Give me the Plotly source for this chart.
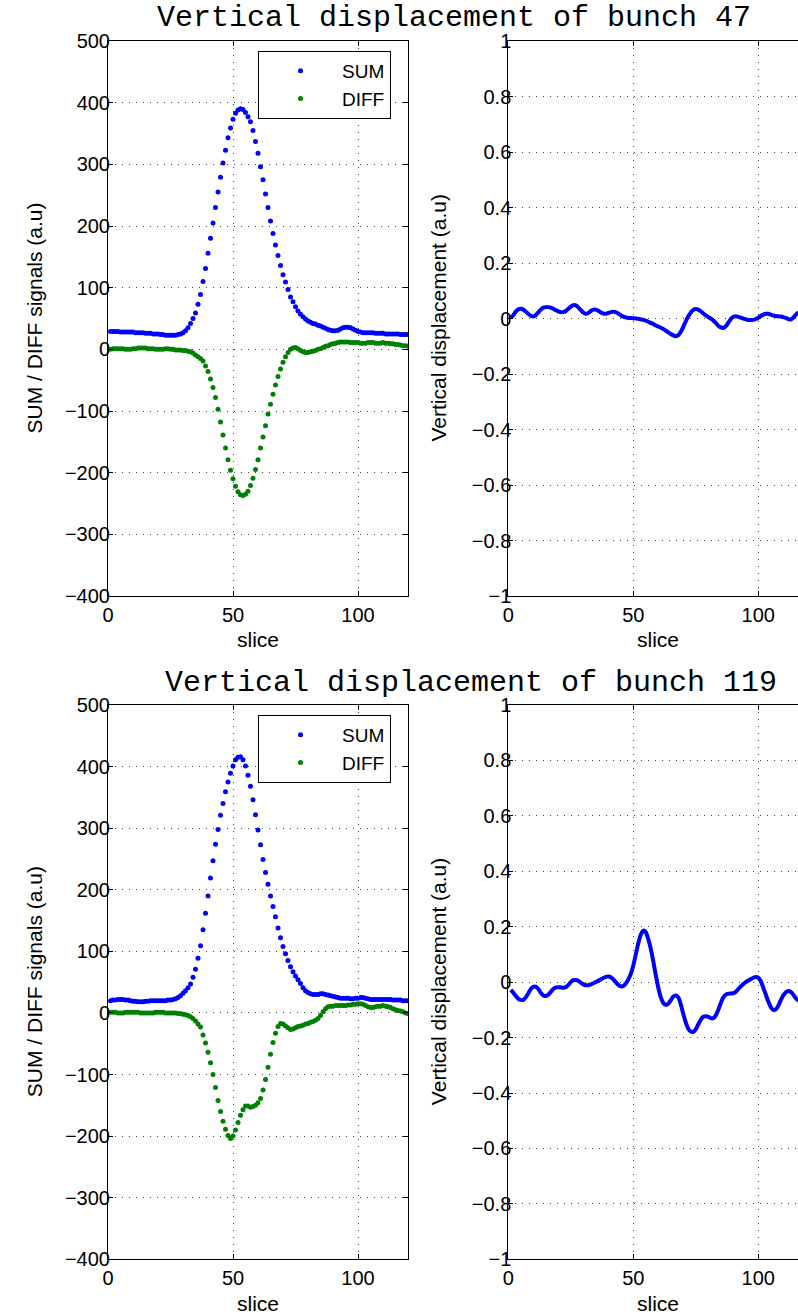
import plotly.graph_objects as go

W, H = 798, 1315

slices = list(range(1, 121))

sum47 = [29, 29, 29, 29, 28, 28, 28, 28, 28, 28,
         27, 27, 27, 27, 26, 26, 26, 25, 25, 25,
         24, 24, 23, 23, 23, 23, 23, 24, 25, 27,
         30, 35, 42, 50, 59, 73, 89, 110, 131, 156,
         180, 205, 230, 255, 279, 302, 323, 343, 359, 373,
         383, 388, 390, 389, 384, 377, 369, 355, 337, 318,
         296, 275, 252, 230, 208, 188, 169, 152, 136, 121,
         109, 97, 85, 77, 69, 62, 57, 53, 49, 46,
         44, 42, 41, 39, 38, 36, 34, 32, 31, 30,
         30, 31, 33, 35, 36, 36, 35, 33, 31, 29,
         28, 27, 27, 27, 27, 27, 26, 26, 26, 26,
         25, 25, 25, 25, 25, 25, 24, 24, 24, 24]

diff47 = [0, 1, 1, 1, 1, 1, 0, 0, 0, 1,
          1, 2, 2, 2, 2, 1, 1, 1, 0, 0,
          0, 0, 1, 1, 0, 0, -1, -1, -1, -2,
          -2, -3, -4, -6, -9, -12, -15, -19, -27, -36,
          -48, -62, -78, -97, -118, -139, -160, -179, -196, -210,
          -222, -231, -236, -237, -235, -230, -221, -209, -195, -179,
          -160, -142, -124, -105, -89, -73, -58, -44, -32, -21,
          -12, -5, 0, 2, 3, 1, -2, -4, -5, -5,
          -4, -3, -2, 0, 1, 3, 5, 6, 8, 9,
          10, 11, 12, 12, 12, 12, 11, 11, 11, 11,
          10, 10, 10, 11, 11, 11, 10, 10, 10, 11,
          10, 10, 9, 9, 8, 8, 7, 6, 6, 5]

disp47 = [0.002, 0.012, 0.025, 0.033, 0.035, 0.032, 0.025, 0.017, 0.010, 0.007,
          0.012, 0.022, 0.032, 0.039, 0.041, 0.041, 0.039, 0.035, 0.030, 0.026,
          0.023, 0.023, 0.027, 0.035, 0.043, 0.048, 0.047, 0.040, 0.030, 0.021,
          0.017, 0.020, 0.027, 0.032, 0.032, 0.028, 0.022, 0.018, 0.017, 0.020,
          0.023, 0.024, 0.023, 0.018, 0.012, 0.007, 0.004, 0.002, 0.002, 0.001,
          0.000, -0.001, -0.003, -0.005, -0.008, -0.012, -0.016, -0.020, -0.025, -0.029,
          -0.033, -0.038, -0.044, -0.050, -0.056, -0.061, -0.064, -0.060, -0.048, -0.030,
          -0.010, 0.008, 0.022, 0.031, 0.034, 0.032, 0.026, 0.018, 0.011, 0.005,
          0.000, -0.007, -0.016, -0.026, -0.032, -0.034, -0.028, -0.015, -0.002, 0.006,
          0.008, 0.006, 0.003, 0.000, -0.003, -0.005, -0.005, -0.005, -0.002, 0.003,
          0.009, 0.014, 0.017, 0.017, 0.014, 0.011, 0.009, 0.008, 0.007, 0.005,
          0.002, -0.002, -0.004, 0.003, 0.014, 0.020, 0.022, 0.020, 0.015, 0.010]

sum119 = [20, 21, 21, 22, 22, 22, 21, 21, 20, 19,
          19, 18, 18, 18, 19, 19, 20, 20, 20, 20,
          20, 20, 20, 21, 21, 22, 23, 25, 28, 32,
          36, 41, 47, 58, 71, 89, 109, 135, 162, 190,
          219, 247, 274, 298, 321, 340, 359, 375, 389, 401,
          411, 415, 416, 411, 401, 386, 368, 346, 322, 297,
          273, 249, 228, 209, 190, 173, 156, 138, 122, 108,
          96, 85, 75, 67, 60, 54, 48, 41, 36, 33,
          31, 30, 30, 30, 31, 31, 30, 29, 28, 27,
          26, 25, 24, 24, 24, 24, 23, 23, 24, 24,
          25, 25, 24, 23, 22, 22, 22, 22, 22, 22,
          22, 22, 22, 21, 21, 21, 21, 20, 20, 20]

diff119 = [1, 1, 1, 0, 0, 0, 1, 1, 1, 1,
           1, 1, 0, 0, 0, 0, 0, 0, 1, 1,
           1, 1, 0, 0, 0, 0, 0, -1, -1, -2,
           -3, -4, -6, -9, -13, -18, -23, -36, -49, -64,
           -81, -100, -121, -142, -160, -176, -189, -199, -204, -200,
           -190, -178, -166, -157, -151, -151, -153, -152, -150, -146,
           -139, -125, -108, -88, -67, -48, -33, -22, -17, -18,
           -21, -24, -27, -26, -24, -22, -21, -20, -18, -17,
           -15, -14, -12, -9, -4, 2, 7, 10, 11, 11,
           12, 12, 12, 12, 12, 13, 13, 14, 14, 15,
           15, 14, 12, 10, 9, 9, 10, 11, 11, 12,
           11, 10, 9, 7, 5, 4, 3, 2, 0, -1]

disp119 = [-0.028, -0.038, -0.050, -0.060, -0.064, -0.064, -0.055, -0.040, -0.025, -0.017,
           -0.016, -0.025, -0.038, -0.048, -0.050, -0.045, -0.035, -0.025, -0.019, -0.018,
           -0.019, -0.020, -0.018, -0.010, 0.000, 0.007, 0.008, 0.005, -0.002, -0.008,
           -0.011, -0.011, -0.008, -0.004, 0.000, 0.005, 0.010, 0.015, 0.019, 0.020,
           0.018, 0.010, 0.000, -0.010, -0.015, -0.014, -0.005, 0.010, 0.030, 0.060,
           0.100, 0.140, 0.172, 0.186, 0.180, 0.155, 0.120, 0.075, 0.025, -0.020,
           -0.055, -0.075, -0.082, -0.078, -0.065, -0.052, -0.048, -0.055, -0.080, -0.115,
           -0.145, -0.168, -0.178, -0.179, -0.170, -0.152, -0.135, -0.125, -0.123, -0.125,
           -0.130, -0.130, -0.120, -0.100, -0.075, -0.055, -0.045, -0.042, -0.041, -0.040,
           -0.035, -0.025, -0.015, -0.007, 0.000, 0.006, 0.011, 0.016, 0.019, 0.016,
           0.003, -0.020, -0.045, -0.070, -0.090, -0.100, -0.098, -0.085, -0.065, -0.048,
           -0.037, -0.032, -0.035, -0.045, -0.058, -0.066, -0.070, -0.070, -0.065, -0.060]

titles = ["Vertical displacement of bunch 47", "Vertical displacement of bunch 119"]
left_ylabel = "SUM / DIFF signals (a.u)"
right_ylabel = "Vertical displacement (a.u)"
xlabel = "slice"

BLUE = "#0000ff"
GREEN = "#008000"
FONT = "Liberation Sans, Arial, Helvetica, sans-serif"
MONO = "Courier New, Liberation Mono, monospace"


def px(x):
    """page pixel x -> paper fraction"""
    return x / W


def py(y):
    """page pixel y -> paper fraction"""
    return 1 - y / H


# layout geometry in page pixels
LX = (108, 408)
RX = (508.3, 798)
ROWS = [(41, 596), (705, 1259.3)]
RIGHT_RANGE_MAX = (RX[1] - RX[0]) / 2.5

fig = go.Figure()

rows_data = [(sum47, diff47, disp47), (sum119, diff119, disp119)]
legend_names = ["legend", "legend2"]

for r, (s, d, v) in enumerate(rows_data):
    xa_l = "x" if r == 0 else "x3"
    ya_l = "y" if r == 0 else "y3"
    xa_r = "x2" if r == 0 else "x4"
    ya_r = "y2" if r == 0 else "y4"
    fig.add_trace(go.Scatter(x=slices, y=s, mode="markers", name="SUM",
                             marker=dict(color=BLUE, size=5),
                             xaxis=xa_l, yaxis=ya_l, legend=legend_names[r]))
    fig.add_trace(go.Scatter(x=slices, y=d, mode="markers", name="DIFF",
                             marker=dict(color=GREEN, size=5),
                             xaxis=xa_l, yaxis=ya_l, legend=legend_names[r]))
    fig.add_trace(go.Scatter(x=slices, y=v, mode="lines", showlegend=False,
                             line=dict(color=BLUE, width=4, shape="spline", smoothing=0.6),
                             xaxis=xa_r, yaxis=ya_r))

axis_common = dict(showline=True, linecolor="black", linewidth=1,
                   ticks="inside", ticklen=5, tickcolor="black",
                   showgrid=True, gridcolor="#444444", griddash="1px,6px", gridwidth=1,
                   zeroline=False, tickfont=dict(family=FONT, size=20, color="black"),
                   automargin=False, fixedrange=True)

layout = dict(width=W, height=H, margin=dict(l=0, r=0, t=0, b=0),
              paper_bgcolor="white", plot_bgcolor="white", showlegend=True)

for r, (ytop, ybot) in enumerate(ROWS):
    sfx_l = "" if r == 0 else "3"
    sfx_r = "2" if r == 0 else "4"
    layout["xaxis" + sfx_l] = dict(axis_common, domain=[px(LX[0]), px(LX[1])], range=[0, 120],
                                   tick0=0, dtick=50, mirror="ticks",
                                   anchor="y" + sfx_l, ticklabelstandoff=1)
    layout["yaxis" + sfx_l] = dict(axis_common, domain=[py(ybot), py(ytop)], range=[-400, 500],
                                   tick0=0, dtick=100, mirror="ticks",
                                   anchor="x" + sfx_l, ticklabelstandoff=-7)
    layout["xaxis" + sfx_r] = dict(axis_common, domain=[px(RX[0]), 1.0], range=[0, RIGHT_RANGE_MAX],
                                   tick0=0, dtick=50, mirror="ticks",
                                   anchor="y" + sfx_r, ticklabelstandoff=1)
    layout["yaxis" + sfx_r] = dict(axis_common, domain=[py(ybot), py(ytop)], range=[-1, 1],
                                   tick0=0, dtick=0.2, mirror=False,
                                   anchor="x" + sfx_r, ticklabelstandoff=-8)

leg_common = dict(bgcolor="white", bordercolor="black", borderwidth=1,
                  font=dict(family=FONT, size=19, color="black"),
                  xanchor="left", yanchor="top", itemwidth=73,
                  tracegroupgap=0, itemclick=False, itemdoubleclick=False)
layout["legend"] = dict(leg_common, x=px(258), y=py(51))
layout["legend2"] = dict(leg_common, x=px(258), y=py(715))

annotations = []
title_pos = [(155, 18), (163, 683)]
for r, (ytop, ybot) in enumerate(ROWS):
    annotations.append(dict(text=titles[r], x=px(title_pos[r][0]), y=py(title_pos[r][1]),
                            xref="paper", yref="paper", xanchor="left", yanchor="middle",
                            showarrow=False, font=dict(family=MONO, size=30, color="black")))
    ymid = (ytop + ybot) / 2
    annotations.append(dict(text=left_ylabel, x=px(34), y=py(ymid), xref="paper", yref="paper",
                            textangle=-90, xanchor="center", yanchor="middle", showarrow=False,
                            font=dict(family=FONT, size=21, color="black")))
    annotations.append(dict(text=right_ylabel, x=px(438), y=py(ymid), xref="paper", yref="paper",
                            textangle=-90, xanchor="center", yanchor="middle", showarrow=False,
                            font=dict(family=FONT, size=21, color="black")))
    ylab = ybot + 44
    annotations.append(dict(text=xlabel, x=px((LX[0] + LX[1]) / 2), y=py(ylab), xref="paper",
                            yref="paper", xanchor="center", yanchor="middle", showarrow=False,
                            font=dict(family=FONT, size=21, color="black")))
    annotations.append(dict(text=xlabel, x=px(RX[0] + 150), y=py(ylab), xref="paper",
                            yref="paper", xanchor="center", yanchor="middle", showarrow=False,
                            font=dict(family=FONT, size=21, color="black")))
layout["annotations"] = annotations

fig.update_layout(**layout)
# remove the browser's default 8px body margin so the figure fills the window exactly
fig.write_html("out.html",
               config={"displayModeBar": False, "staticPlot": True},
               post_script="document.body.style.margin='0px';document.body.style.overflow='hidden';")
